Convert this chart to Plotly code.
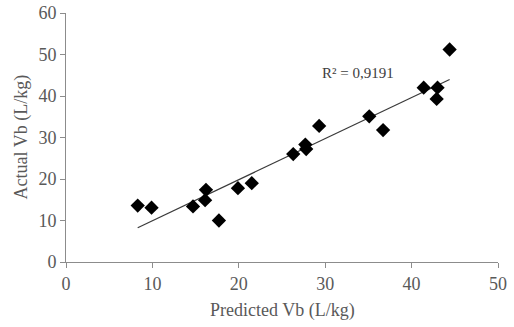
import numpy as np
import plotly.graph_objects as go

predicted = [8.3, 9.9, 14.7, 16.1, 16.2, 17.7, 19.9, 21.5, 26.3, 27.7, 27.8, 29.3, 35.1, 36.7, 41.4, 43.0, 42.9, 44.4]
actual    = [13.6, 13.1, 13.4, 14.9, 17.4, 10.0, 17.8, 19.0, 26.0, 28.3, 27.2, 32.8, 35.1, 31.8, 42.0, 42.0, 39.3, 51.2]

x_ticks = [0, 10, 20, 30, 40, 50]
y_ticks = [0, 10, 20, 30, 40, 50, 60]
r2_label = "R² = 0,9191"
x_title = "Predicted Vb (L/kg)"
y_title = "Actual Vb (L/kg)"

x = np.array(predicted)
y = np.array(actual)
slope, intercept = np.polyfit(x, y, 1)
xl = np.array([x.min(), x.max()])
yl = slope * xl + intercept

font = "Liberation Serif, Times New Roman, serif"
grey = "#595959"

fig = go.Figure()
fig.add_trace(go.Scatter(x=xl, y=yl, mode="lines",
                         line=dict(color="#3a3a3a", width=1.2),
                         hoverinfo="skip", showlegend=False))
fig.add_trace(go.Scatter(x=predicted, y=actual, mode="markers",
                         marker=dict(symbol="diamond", size=11, color="black"),
                         showlegend=False))

fig.add_annotation(x=33.8, y=45.6, text=r2_label, showarrow=False,
                   font=dict(family=font, size=15, color="#404040"))
fig.add_annotation(xref="paper", yref="paper", x=0.5, y=0, yshift=-48,
                   text=x_title, showarrow=False, yanchor="middle",
                   font=dict(family=font, size=18, color=grey))
fig.add_annotation(xref="paper", yref="paper", x=0, y=0.5, xshift=-45,
                   text=y_title, showarrow=False, textangle=-90, xanchor="center",
                   font=dict(family=font, size=18, color=grey))

fig.update_layout(
    width=514, height=327,
    margin=dict(l=66, r=16, t=13, b=65),
    paper_bgcolor="white", plot_bgcolor="white",
    font=dict(family=font, size=17, color=grey),
)
fig.update_xaxes(range=[0, 50], tickvals=x_ticks, showgrid=False, zeroline=False,
                 showline=True, linecolor="#8c8c8c", linewidth=1, automargin=False,
                 ticks="outside", ticklen=5, tickcolor="#8c8c8c",
                 ticklabeloverflow="allow",
                 tickfont=dict(family=font, size=18, color=grey))
fig.update_yaxes(range=[0, 60], tickvals=y_ticks, showgrid=False, zeroline=False,
                 showline=True, linecolor="#8c8c8c", linewidth=1, automargin=False,
                 ticks="outside", ticklen=5, tickcolor="#8c8c8c",
                 ticklabeloverflow="allow",
                 tickfont=dict(family=font, size=18, color=grey))

fig.write_html("out.html", config={"displayModeBar": False},
               post_script="document.body.style.margin='0';document.body.style.overflow='hidden';")
